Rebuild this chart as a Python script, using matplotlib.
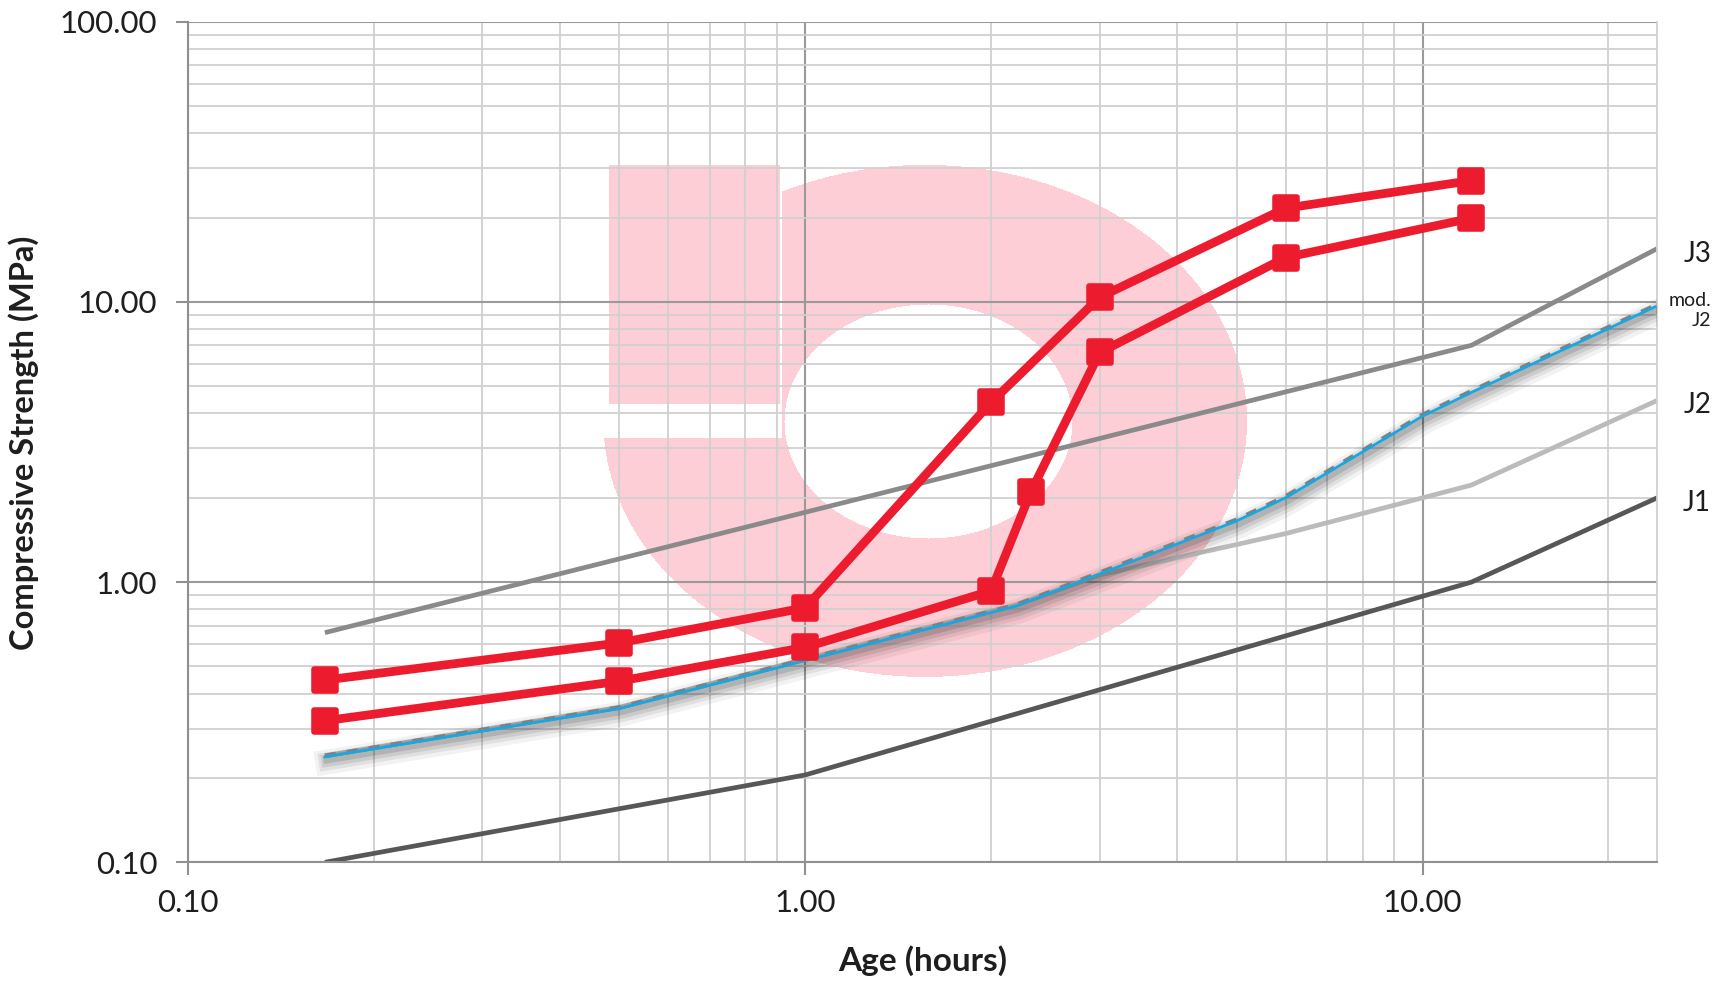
import numpy as np
import matplotlib
matplotlib.use("Agg")
import matplotlib.pyplot as plt
from matplotlib import ticker, transforms
import matplotlib.patheffects as pe
from matplotlib.markers import MarkerStyle

plt.rcParams['font.family'] = ['Lato', 'DejaVu Sans']

# ---------------- data ----------------
hours_a = [1/6, 0.5, 1, 2, 3, 6, 12]
mix_a = [0.447, 0.607, 0.81, 4.38, 10.4, 21.6, 27.1]

hours_b = [1/6, 0.5, 1, 2, 2.32, 3, 6, 12]
mix_b = [0.32, 0.443, 0.585, 0.93, 2.10, 6.6, 14.4, 19.9]

hours_j1 = [1/6, 1, 12, 24]
j1 = [0.10, 0.205, 1.0, 2.0]

hours_j2 = [1/6, 0.5, 1, 2.2, 3, 6, 12, 24]
j2 = [0.24, 0.357, 0.53, 0.83, 1.06, 1.49, 2.22, 4.45]

hours_j3 = [1/6, 12, 24]
j3 = [0.66, 7.0, 15.5]

hours_modj2 = [1/6, 0.5, 1, 2.2, 3, 4, 5, 6, 10, 12, 23.8]
modj2 = [0.24, 0.357, 0.53, 0.83, 1.08, 1.38, 1.67, 2.02, 3.95, 4.8, 9.7]

x_ticks = [0.1, 1, 10]
x_ticklabels = ["0.10", "1.00", "10.00"]
y_ticks = [0.1, 1, 10, 100]
y_ticklabels = ["0.10", "1.00", "10.00", "100.00"]

# ---------------- figure ----------------
W, H = 1719, 985
fig = plt.figure(figsize=(W / 100, H / 100), dpi=100, facecolor='white')
ax = fig.add_axes([187.9 / W, 1 - 862.3 / H, (1657.3 - 187.9) / W, (862.3 - 21.7) / H])
ax.patch.set_alpha(0)

# watermark logo (decorative background), in figure pixels
yy, xx = np.mgrid[0:H, 0:W].astype(float)
cx, cy = 924.7, 420.4
outer = ((xx - cx) / 321.8) ** 2 + ((yy - cy) / 256.0) ** 2 <= 1
inner = ((xx - 928.0) / 144.0) ** 2 + ((yy - 421.0) / 117.0) ** 2 <= 1
ring = outer & ~inner & ~((xx < 781.6) & (yy < 438.0))
rect = (xx >= 608.4) & (xx <= 779.5) & (yy >= 164.4) & (yy <= 403.4)
mask = ring | rect
img = np.zeros((H, W, 4))
img[..., 0] = 253 / 255
img[..., 1] = 206 / 255
img[..., 2] = 213 / 255
img[..., 3] = mask.astype(float)
fig.figimage(img, xo=0, yo=0, origin='upper', zorder=-1)

ax.set_xscale('log')
ax.set_yscale('log')
ax.set_xlim(0.1, 24)
ax.set_ylim(0.1, 100)

# grid
ax.set_axisbelow(True)
ax.grid(True, which='minor', axis='both', color='#d0d0d0', lw=1.3)
ax.grid(True, which='major', axis='both', color='#9a9a9a', lw=1.5)
ax.xaxis.set_minor_locator(ticker.LogLocator(base=10, subs=np.arange(2, 10)))
ax.yaxis.set_minor_locator(ticker.LogLocator(base=10, subs=np.arange(2, 10)))
ax.xaxis.set_minor_formatter(ticker.NullFormatter())
ax.yaxis.set_minor_formatter(ticker.NullFormatter())
ax.set_xticks(x_ticks)
ax.set_xticklabels(x_ticklabels)
ax.set_yticks(y_ticks)
ax.set_yticklabels(y_ticklabels)
ax.tick_params(which='major', length=9, width=1.5, color='#909090', labelsize=22.5,
               labelcolor='#1e1e1e')
ax.tick_params(axis='x', which='major', pad=10)
ax.tick_params(axis='y', which='major', pad=13)
ax.tick_params(which='minor', length=0)
for s in ['left', 'bottom']:
    ax.spines[s].set_color('#909090')
    ax.spines[s].set_linewidth(1.5)
ax.spines['top'].set_visible(False)
ax.spines['right'].set_color('#d0d0d0')
ax.spines['right'].set_linewidth(1.3)

# J curves
ax.plot(hours_j1, j1, color='#575757', lw=3.4, zorder=2, solid_capstyle='butt')
ax.plot(hours_j2, j2, color='#bbbbbb', lw=3.4, zorder=2, solid_capstyle='butt')
ax.plot(hours_j3, j3, color='#8a8a8a', lw=3.4, zorder=2, solid_capstyle='butt')

# soft shadow under mod. J2
shadow = ax.plot(hours_modj2, modj2, color='black', lw=0.01, zorder=2.9)[0]
shadow.set_path_effects([
    pe.SimpleLineShadow(offset=(2.0, -4.5), shadow_color='black', alpha=0.05, linewidth=18),
    pe.SimpleLineShadow(offset=(2.0, -4.0), shadow_color='black', alpha=0.07, linewidth=13),
    pe.SimpleLineShadow(offset=(2.0, -3.5), shadow_color='black', alpha=0.09, linewidth=9),
    pe.SimpleLineShadow(offset=(1.5, -3.0), shadow_color='black', alpha=0.12, linewidth=5),
])

# mod. J2 : dashed grey + blue line
ax.plot(hours_modj2, modj2, color='#808080', lw=3.2, ls=(0, (2.5, 2.5)), zorder=3)
blue_tr = transforms.offset_copy(ax.transData, fig=fig, x=0, y=-1.2, units='dots')
ax.plot(hours_modj2, modj2, color='#12a9e6', lw=1.9, zorder=3.1, transform=blue_tr)

# red measured series
red = '#ec1c2e'
mk = MarkerStyle('s', joinstyle='round')
ax.plot(hours_a, mix_a, color=red, lw=6.3, marker=mk, ms=15.5, mew=4, mec=red, mfc=red, zorder=4)
ax.plot(hours_b, mix_b, color=red, lw=6.3, marker=mk, ms=15.5, mew=4, mec=red, mfc=red, zorder=4)

# end labels
lab_tr = transforms.blended_transform_factory(fig.transFigure, ax.transData)
lab_tr = lab_tr + transforms.ScaledTranslation(0, -5 / 100, fig.dpi_scale_trans)
xl = 1711 / W
ax.text(xl, j3[-1], "J3", transform=lab_tr, ha='right', va='center', fontsize=20, color='#1e1e1e')
ax.text(xl, j2[-1], "J2", transform=lab_tr, ha='right', va='center', fontsize=20, color='#1e1e1e')
ax.text(xl, j1[-1], "J1", transform=lab_tr, ha='right', va='center', fontsize=20, color='#1e1e1e')
ax.text(xl, modj2[-1], "mod.\nJ2", transform=lab_tr, ha='right', va='center', fontsize=14,
        color='#1e1e1e', multialignment='right', linespacing=1.25)

# axis titles
fig.text(923 / W, 1 - 961 / H, "Age (hours)", ha='center', va='center', fontsize=24,
         fontweight='bold', color='#1e1e1e')
fig.text(24 / W, 1 - 443 / H, "Compressive Strength (MPa)", ha='center', va='center',
         rotation=90, fontsize=23.5, fontweight='bold', color='#1e1e1e')

fig.savefig("out.png", dpi=100, facecolor='white')
